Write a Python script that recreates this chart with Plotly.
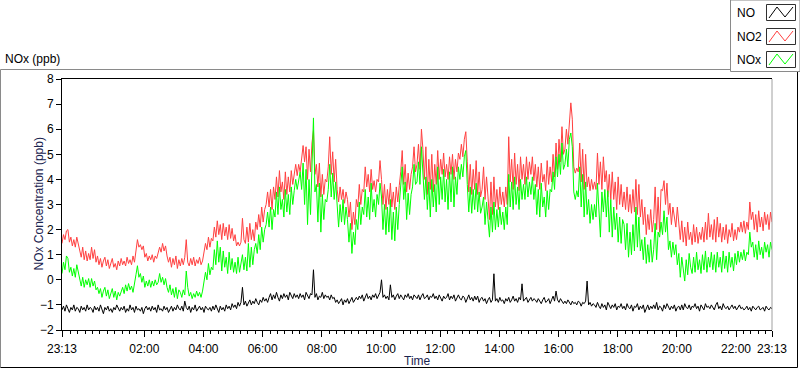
import pandas as pd
import plotly.graph_objects as go

# ---------------- data (3-minute steps from 23:13) ----------------
start_time = "2013-01-01 23:13"
end_time = "2013-01-02 23:13"
step_minutes = 3

no2 = [
    1.45, 1.8, 1.6, 1.95, 2.0, 1.5, 1.7, 1.35, 1.6, 1.3, 1.7, 1.45, 1.25, 0.9, 1.3, 0.8, 1.15, 0.75, 1.05, 0.8,
    1.3, 0.85, 1.2, 0.7, 0.95, 0.6, 0.85, 0.5, 0.75, 0.9, 0.55, 0.8, 0.45, 0.7, 0.85, 0.5, 0.65, 0.4, 0.75, 0.55,
    0.85, 0.6, 0.75, 0.55, 0.9, 0.65, 0.8, 0.6, 0.95, 0.7, 1.2, 1.6, 1.3, 1.4, 1.2, 1.35, 0.9, 1.05, 0.75, 0.95,
    0.8, 1.0, 0.7, 0.95, 0.85, 1.05, 1.3, 1.1, 1.45, 1.15, 1.35, 0.95, 0.7, 0.9, 0.5, 0.85, 0.6, 0.95, 0.45, 0.8,
    0.55, 0.85, 0.6, 0.9, 1.6, 0.7, 0.55, 0.85, 0.6, 0.9, 0.55, 0.8, 0.65, 0.9, 0.6, 0.75, 1.1, 1.45, 1.2, 1.7,
    1.3, 1.65, 1.55, 2.1, 1.7, 2.35, 1.8, 2.2, 1.6, 2.25, 1.75, 2.1, 1.6, 2.2, 1.65, 2.05, 1.55, 1.8, 1.35, 1.5,
    1.35, 1.5, 2.45, 1.6, 1.45, 2.1, 1.5, 2.25, 1.6, 2.0, 1.55, 2.3, 2.0, 2.6, 2.1, 2.9, 2.3, 2.8, 3.0, 3.5,
    2.9, 3.6, 2.8, 3.7, 3.2, 4.1, 3.3, 4.35, 3.5, 3.9, 3.2, 4.3, 3.4, 4.1, 3.5, 4.35, 3.8, 4.2, 4.6, 4.15,
    4.6, 4.3, 4.8, 5.35, 4.7, 5.3, 4.0, 5.2, 4.3, 5.45, 5.95, 4.2, 4.6, 3.7, 4.65, 3.3, 4.2, 3.4, 4.0, 3.9,
    4.5, 5.7, 4.2, 5.1, 3.9, 4.8, 3.6, 3.1, 3.7, 3.2, 3.6, 3.05, 3.5, 3.2, 2.5, 3.1, 2.0, 2.7, 2.2, 3.2,
    2.9, 3.8, 3.0, 3.6, 3.5, 4.5, 3.7, 4.2, 3.5, 4.4, 3.6, 3.95, 3.5, 4.0, 3.9, 4.75, 4.0, 3.0, 3.8, 2.8,
    3.6, 3.0, 3.85, 2.9, 3.5, 2.8, 3.7, 3.1, 3.75, 4.3, 5.15, 3.8, 4.6, 3.5, 4.25, 3.6, 4.2, 4.5, 5.3, 4.3,
    4.6, 5.4, 4.4, 6.0, 5.2, 4.0, 5.3, 3.4, 4.8, 3.6, 5.0, 3.5, 4.6, 3.8, 5.15, 4.0, 4.8, 4.2, 5.05, 4.1,
    4.6, 4.0, 4.9, 4.2, 5.0, 4.0, 4.8, 4.3, 5.05, 4.8, 5.4, 4.9, 5.6, 5.9, 4.7, 3.5, 4.6, 3.4, 4.4, 3.6,
    4.75, 3.4, 4.3, 3.3, 3.6, 4.5, 3.2, 4.1, 3.3, 2.4, 3.9, 2.6, 4.1, 2.9, 3.6, 2.8, 3.7, 3.0, 3.5, 2.9,
    3.7, 3.0, 5.7, 3.9, 4.8, 3.6, 5.05, 3.8, 4.6, 3.55, 4.9, 4.0, 4.6, 3.8, 4.9, 4.0, 4.7, 4.2, 4.9, 3.95,
    4.6, 3.7, 4.5, 3.6, 4.65, 3.9, 4.2, 3.55, 4.75, 3.8, 4.5, 3.9, 5.0, 4.1, 5.45, 4.4, 5.6, 4.7, 6.1, 5.0,
    5.2, 6.0, 5.4, 6.5, 7.05, 6.4, 4.5, 4.25, 4.45, 4.3, 5.45, 3.9, 5.2, 3.6, 5.0, 3.7, 4.1, 3.55, 4.0, 3.6,
    3.9, 3.6, 5.05, 3.8, 4.7, 3.6, 4.9, 3.9, 4.35, 3.3, 4.2, 3.2, 4.3, 3.2, 3.9, 2.8, 4.1, 3.0, 3.8, 2.9,
    3.5, 2.8, 3.7, 2.7, 3.4, 2.65, 3.6, 2.7, 4.0, 2.6, 3.8, 2.5, 3.2, 2.2, 2.9, 1.8, 2.6, 2.0, 2.8, 1.9,
    2.4, 3.7, 2.0, 3.3, 1.9, 3.6, 3.55, 3.95, 3.0, 3.85, 2.6, 3.05, 2.2, 2.9, 2.4, 2.1, 2.9, 2.3, 1.6, 2.35,
    1.5, 2.1, 1.35, 2.3, 1.6, 1.9, 1.4, 2.2, 1.5, 2.1, 1.45, 1.9, 1.6, 2.1, 1.5, 2.3, 1.6, 2.65, 1.7, 2.2,
    1.6, 2.4, 1.5, 2.5, 1.7, 2.25, 1.5, 2.1, 1.6, 2.2, 1.45, 2.0, 1.7, 2.25, 1.55, 2.0, 1.6, 2.1, 1.9, 2.3,
    1.9, 2.35, 1.85, 2.3, 2.0, 3.1, 2.4, 2.7, 2.0, 2.6, 1.9, 2.75, 2.1, 2.5, 1.95, 2.7, 2.2, 2.6, 2.0, 2.7, 2.3,
]

nox = [
    0.25, 0.7, 0.4, 0.95, 0.85, 0.3, 0.5, 0.15, 0.45, 0.1, 0.6, 0.35, 0.05, -0.25, 0.1, -0.3, 0.0, -0.2, 0.05, -0.3,
    0.05, -0.25, -0.05, -0.4, -0.3, -0.55, -0.35, -0.7, -0.45, -0.3, -0.65, -0.4, -0.75, -0.5, -0.35, -0.7, -0.45, -0.8, -0.5, -0.65,
    -0.5, -0.3, -0.55, -0.2, -0.45, -0.15, -0.4, -0.25, -0.5, -0.2, 0.2, 0.56, 0.1, 0.25, -0.1, 0.15, -0.3, -0.05, -0.25, 0.0,
    -0.3, -0.05, -0.25, 0.0, -0.2, -0.1, 0.25, -0.1, 0.1, -0.2, 0.05, -0.3, -0.5, -0.2, -0.6, -0.35, -0.7, -0.3, -0.75, -0.4,
    -0.5, -0.7, -0.4, -0.6, 0.35, -0.3, -0.65, -0.5, -0.75, -0.55, -0.7, -0.45, -0.65, -0.5, -0.7, -0.45, -0.1, 0.3, 0.0, 0.65,
    0.2, 0.5, 0.4, 1.2, 0.6, 1.55, 0.7, 1.3, 0.35, 1.15, 0.5, 0.9, 0.25, 1.1, 0.4, 0.85, 0.3, 0.7, 0.25, 0.9,
    0.3, 0.75, 1.0, 0.4, 0.9, 0.35, 1.45, 0.5, 1.3, 0.6, 1.2, 1.45, 1.05, 1.8, 1.2, 2.1, 1.5, 2.0, 2.2, 2.7,
    2.1, 2.9, 2.0, 2.8, 2.5, 3.5, 2.6, 3.7, 2.8, 3.2, 2.5, 3.6, 2.7, 3.4, 2.6, 3.7, 3.0, 3.55, 4.0, 3.6,
    3.9, 4.3, 3.6, 4.65, 3.0, 4.4, 2.2, 4.0, 2.6, 4.5, 6.45, 3.5, 3.8, 2.3, 3.85, 1.9, 3.4, 2.4, 3.2, 3.1,
    3.6, 4.6, 3.3, 4.25, 3.2, 3.9, 2.7, 2.1, 3.0, 2.3, 3.2, 2.2, 2.9, 2.4, 1.5, 2.25, 1.05, 1.9, 1.4, 2.4,
    2.0, 3.1, 2.2, 2.9, 2.6, 3.6, 2.5, 3.3, 2.4, 3.85, 2.7, 3.2, 2.5, 3.4, 3.0, 3.85, 3.3, 2.0, 3.0, 1.8,
    2.9, 1.9, 3.2, 1.6, 2.7, 1.55, 2.9, 2.0, 3.0, 3.6, 4.5, 3.2, 3.9, 2.4, 3.45, 2.6, 3.4, 3.7, 4.6, 3.8,
    3.9, 4.7, 3.8, 5.3, 4.4, 3.2, 4.1, 2.8, 3.9, 2.5, 4.0, 2.9, 3.8, 2.7, 4.5, 3.0, 4.1, 3.2, 4.4, 3.1,
    4.0, 2.8, 4.3, 3.1, 4.5, 2.9, 4.1, 3.4, 4.5, 4.0, 4.6, 4.1, 4.9, 5.15, 3.8, 2.7, 3.7, 2.65, 3.6, 2.8,
    3.85, 2.7, 3.5, 2.65, 2.9, 3.3, 2.2, 3.1, 2.4, 1.7, 2.9, 1.9, 3.1, 2.0, 2.8, 2.1, 2.9, 2.2, 2.7, 2.0,
    2.9, 2.2, 4.2, 2.9, 3.9, 2.8, 4.1, 3.0, 3.7, 2.8, 4.0, 3.2, 3.8, 3.2, 4.1, 3.3, 3.9, 3.4, 4.1, 3.2,
    3.8, 2.6, 3.6, 2.5, 3.85, 2.9, 3.3, 2.5, 3.55, 2.8, 3.6, 3.5, 4.3, 3.6, 4.9, 4.1, 5.0, 4.2, 5.45, 4.4,
    4.6, 5.2, 4.5, 5.6, 5.85, 5.3, 3.5, 3.2, 3.55, 3.3, 4.5, 2.9, 4.2, 2.5, 3.9, 2.6, 3.2, 2.25, 3.0, 2.4,
    3.0, 2.5, 3.85, 2.6, 1.7, 3.5, 2.7, 3.6, 2.5, 3.55, 1.9, 3.2, 1.7, 2.9, 2.0, 2.65, 1.5, 2.5, 1.45, 2.4,
    2.2, 1.2, 2.25, 0.9, 1.9, 1.0, 2.2, 1.15, 2.9, 1.3, 2.5, 1.15, 1.6, 0.8, 1.7, 0.65, 1.4, 0.7, 1.6, 0.7,
    1.2, 2.25, 0.8, 1.9, 1.7, 2.3, 1.8, 2.75, 1.9, 2.5, 1.2, 1.55, 0.9, 1.5, 1.0, 1.4, 0.6, 1.05, 0.1, 0.9,
    0.3, -0.05, 0.8, 0.2, 1.05, 0.5, 0.25, 0.9, 0.3, 1.1, 0.4, 0.8, 0.25, 1.0, 0.4, 1.15, 0.3, 0.9, 0.5, 1.1,
    0.4, 1.0, 0.3, 1.1, 0.5, 0.9, 0.3, 1.15, 0.45, 0.95, 0.3, 1.1, 0.5, 0.9, 0.35, 1.05, 0.6, 1.15, 0.7, 1.1,
    0.8, 1.2, 0.75, 1.1, 1.0, 1.9, 1.3, 1.5, 0.9, 1.4, 0.8, 1.55, 1.0, 1.3, 0.85, 1.5, 1.1, 1.4, 0.9, 1.5, 1.2,
]

no = [
    -1.2, -1.05, -1.25, -1.0, -1.15, -1.3, -1.1, -1.2, -1.0, -1.25, -1.1, -1.15, -1.3, -1.05, -1.2, -1.1, -1.25, -1.0, -1.2, -1.1,
    -1.15, -1.3, -1.05, -1.2, -1.1, -1.25, -1.0, -1.2, -1.35, -1.1, -1.2, -1.05, -1.25, -1.15, -1.3, -1.1, -1.2, -1.0, -1.15, -1.25,
    -1.1, -1.2, -1.05, -1.3, -1.15, -1.25, -1.0, -1.2, -1.1, -1.3, -1.05, -1.2, -1.15, -1.25, -1.1, -1.35, -1.15, -1.05, -1.2, -1.1,
    -1.25, -1.05, -1.2, -1.1, -1.3, -1.0, -1.2, -1.15, -1.25, -1.05, -1.2, -1.1, -1.3, -1.15, -1.05, -1.25, -1.1, -1.2, -1.0, -1.15,
    -1.2, -1.05, -1.25, -0.85, -1.1, -1.2, -1.05, -1.3, -1.1, -1.2, -1.0, -1.25, -1.15, -1.05, -1.2, -1.1, -1.3, -1.05, -1.15, -1.2,
    -1.1, -1.25, -1.05, -1.2, -1.0, -1.15, -1.3, -1.05, -1.2, -1.1, -1.25, -1.0, -1.15, -1.05, -1.2, -0.95, -1.1, -1.0, -1.15, -0.9,
    -1.05, -0.9, -0.3, -1.0, -0.85, -1.05, -0.9, -0.8, -1.0, -0.85, -0.95, -0.75, -0.9, -1.0, -0.8, -0.9, -0.7, -0.85, -0.75, -0.9,
    -0.7, -0.55, -0.8, -0.6, -0.75, -0.5, -0.7, -0.85, -0.6, -0.75, -0.55, -0.7, -0.6, -0.8, -0.5, -0.65, -0.75, -0.55, -0.7, -0.6,
    -0.75, -0.55, -0.7, -0.6, -0.8, -0.5, -0.65, -0.75, -0.55, -0.6, 0.4, -0.7, -0.55, -0.8, -0.65, -0.7, -0.5, -0.75, -0.6, -0.7,
    -0.65, -0.8, -0.6, -0.75, -0.7, -0.9, -0.8, -0.95, -0.85, -0.75, -1.0, -0.8, -0.9, -0.75, -0.95, -0.85, -0.7, -0.9, -0.8, -0.7,
    -0.8, -0.65, -0.75, -0.6, -0.85, -0.7, -0.55, -0.75, -0.65, -0.8, -0.6, -0.7, -0.55, -0.75, -0.65, -0.5, 0.0, -0.7, -0.6, -0.75,
    -0.65, -0.8, -0.2, -0.7, -0.6, -0.8, -0.65, -0.55, -0.75, -0.6, -0.7, -0.8, -0.6, -0.7, -0.55, -0.75, -0.65, -0.8, -0.6, -0.7,
    -0.75, -0.6, -0.8, -0.65, -0.55, -0.75, -0.7, -0.6, -0.8, -0.65, -0.7, -0.55, -0.75, -0.65, -0.8, -0.6, -0.7, -0.85, -0.65, -0.75,
    -0.7, -0.55, -0.8, -0.65, -0.75, -0.6, -0.85, -0.7, -0.6, -0.75, -0.8, -0.65, -0.7, -0.9, -0.75, -0.6, -0.8, -0.7, -0.85, -0.65,
    -0.8, -0.65, -0.9, -0.75, -0.7, -0.85, -0.75, -0.95, -0.8, -0.7, -0.9, -0.8, 0.24, -0.85, -0.75, -0.9, -0.7, -0.85, -0.8, -0.95,
    -0.75, -0.85, -0.7, -0.9, -0.8, -0.65, -0.85, -0.75, -0.9, -0.7, -0.8, -0.16, -0.85, -0.75, -0.7, -0.9, -0.8, -0.7, -0.85, -0.75,
    -0.8, -0.9, -0.75, -0.85, -0.95, -0.8, -0.7, -0.9, -0.85, -0.75, -0.95, -0.8, -0.65, -0.85, -0.45, -0.8, -0.9, -0.75, -0.85, -0.95,
    -0.85, -0.95, -0.8, -0.9, -1.0, -0.85, -0.95, -0.9, -1.0, -0.85, -0.9, -1.05, -0.9, -0.95, -0.85, -0.05, -1.0, -0.9, -1.05, -0.95,
    -1.0, -1.1, -0.9, -1.05, -1.15, -0.95, -1.1, -1.0, -1.2, -0.9, -1.05, -1.15, -1.0, -1.1, -0.95, -1.2, -1.05, -1.1, -0.95, -1.15,
    -1.05, -1.2, -0.95, -1.1, -1.15, -1.0, -1.25, -1.05, -1.1, -0.95, -1.2, -1.05, -1.15, -1.0, -1.3, -1.1, -1.0, -1.2, -1.05, -1.15,
    -1.0, -1.15, -0.9, -1.2, -1.05, -1.1, -1.25, -1.0, -1.15, -0.95, -1.1, -1.2, -1.05, -1.15, -1.0, -1.25, -1.1, -1.05, -1.2, -1.0,
    -1.2, -0.95, -1.1, -1.15, -1.0, -1.2, -1.05, -1.1, -0.95, -1.15, -1.05, -1.25, -1.0, -1.1, -1.2, -0.95, -1.1, -1.05, -1.15, -1.0,
    -1.1, -1.2, -1.0, -0.9, -1.15, -1.05, -1.2, -0.95, -1.1, -1.15, -1.05, -1.2, -1.1, -1.0, -1.15, -1.05, -1.2, -1.1, -1.0, -1.15,
    -1.1, -1.2, -1.15, -1.05, -1.2, -1.1, -1.25, -1.05, -1.15, -1.2, -1.1, -1.05, -1.2, -1.15, -1.1, -1.25, -1.05, -1.15, -1.2, -1.1, -1.15,
]

tick_values = [
    "2013-01-01 23:13", "2013-01-02 02:00", "2013-01-02 04:00", "2013-01-02 06:00",
    "2013-01-02 08:00", "2013-01-02 10:00", "2013-01-02 12:00", "2013-01-02 14:00",
    "2013-01-02 16:00", "2013-01-02 18:00", "2013-01-02 20:00", "2013-01-02 22:00",
    "2013-01-02 23:13",
]
tick_labels = ["23:13", "02:00", "04:00", "06:00", "08:00", "10:00", "12:00",
               "14:00", "16:00", "18:00", "20:00", "22:00", "23:13"]

series_names = ["NO", "NO2", "NOx"]
series_colors = ["#000000", "#ff4040", "#00ff00"]

# ---------------- figure ----------------
fig = go.Figure()
for name, vals, col in zip(series_names, [no, no2, nox], series_colors):
    times = pd.date_range(start_time, periods=len(vals), freq=f"{step_minutes}min")
    fig.add_trace(go.Scatter(x=times, y=vals, mode="lines", name=name,
                             line=dict(color=col, width=1), showlegend=False,
                             hoverinfo="skip"))

W, H = 800, 369
L, R, T, B = 62, 28, 79, 39
pw, ph = W - L - R, H - T - B


def px(x, y):
    """pixel position -> paper coordinates (layout decoration only)"""
    return (x - L) / pw, (H - B - y) / ph


shapes = []
# outer sunken frame
(fx0, fy0), (fx1, fy1) = px(0.5, 69.5), px(797.5, 367.5)
shapes += [
    dict(type="line", xref="paper", yref="paper", x0=fx0, y0=fy0, x1=fx1, y1=fy0,
         line=dict(color="#8a8a8a", width=1)),
    dict(type="line", xref="paper", yref="paper", x0=fx0, y0=fy0, x1=fx0, y1=fy1,
         line=dict(color="#8a8a8a", width=1)),
    dict(type="line", xref="paper", yref="paper", x0=fx0, y0=fy1, x1=fx1, y1=fy1,
         line=dict(color="#000000", width=1)),
    dict(type="line", xref="paper", yref="paper", x0=fx1, y0=fy0, x1=fx1, y1=fy1,
         line=dict(color="#000000", width=1)),
]
# plot-area right edge (gray)
shapes.append(dict(type="line", xref="paper", yref="paper", x0=1, y0=0, x1=1, y1=1,
                   line=dict(color="#a0a0a0", width=1)))
# legend box
(lx0, ly0), (lx1, ly1) = px(730.5, 0), px(800, 71.5)
shapes.append(dict(type="rect", xref="paper", yref="paper", x0=lx0, y0=ly1, x1=lx1, y1=ly0,
                   fillcolor="white", line=dict(color="#8a8a8a", width=1)))

annotations = []
icon_tops = [4, 28, 51]
for name, col, top in zip(series_names, series_colors, icon_tops):
    (ix0, iy0), (ix1, iy1) = px(766.5, top + 0.5), px(795.5, top + 16.5)
    shapes.append(dict(type="rect", xref="paper", yref="paper", x0=ix0, y0=iy1, x1=ix1, y1=iy0,
                       fillcolor="white", line=dict(color="#303030", width=1)))
    pts = [px(769, top + 14), px(777, top + 3), px(785, top + 13), px(793, top + 3)]
    path = "M " + " L ".join(f"{a},{b}" for a, b in pts)
    shapes.append(dict(type="path", xref="paper", yref="paper", path=path,
                       line=dict(color=col, width=1)))
    tx, ty = px(735, top + 9)
    annotations.append(dict(x=tx, y=ty, xref="paper", yref="paper", text=name,
                            showarrow=False, xanchor="left", yanchor="middle",
                            font=dict(size=12, color="#000000")))

# chart label
ax_, ay_ = px(3, 59)
annotations.append(dict(x=ax_, y=ay_, xref="paper", yref="paper", text="NOx (ppb)",
                        showarrow=False, xanchor="left", yanchor="middle",
                        font=dict(size=12, color="#000000")))
# axis titles
yx, yy = px(38, 204.5)
annotations.append(dict(x=yx, y=yy, xref="paper", yref="paper", text="NOx Concentration (ppb)",
                        showarrow=False, textangle=-90, xanchor="center", yanchor="middle",
                        font=dict(size=12, color="#1a2450")))
tx_, ty_ = px(417, 361)
annotations.append(dict(x=tx_, y=ty_, xref="paper", yref="paper", text="Time",
                        showarrow=False, xanchor="center", yanchor="middle",
                        font=dict(size=12, color="#1a2450")))

font_family = "Liberation Sans, Arial, sans-serif"
fig.update_layout(
    width=W, height=H,
    margin=dict(l=L, r=R, t=T, b=B, pad=0),
    paper_bgcolor="white", plot_bgcolor="white",
    font=dict(family=font_family, size=12, color="#000000"),
    shapes=shapes, annotations=annotations,
    xaxis=dict(
        type="date", range=[start_time, end_time],
        tickmode="array", tickvals=tick_values, ticktext=tick_labels,
        ticks="outside", ticklen=6, tickcolor="#000000", tickwidth=1,
        showline=True, linecolor="#000000", linewidth=1, mirror=True,
        showgrid=False, zeroline=False, ticklabelstandoff=2,
        tickfont=dict(size=12, color="#000000"),
        minor=dict(ticks="outside", ticklen=3, tickcolor="#000000",
                   tick0="2013-01-01 23:15", dtick=15 * 60 * 1000, showgrid=False),
    ),
    yaxis=dict(
        range=[-2, 8], dtick=1, tick0=0,
        ticks="outside", ticklen=5, tickcolor="#000000",
        showline=True, linecolor="#000000", linewidth=1,
        showgrid=False, zeroline=False,
        tickfont=dict(size=12, color="#000000"),
    ),
)

fig.write_html("out.html", config={"displayModeBar": False},
               post_script="document.body.style.margin='0';")
